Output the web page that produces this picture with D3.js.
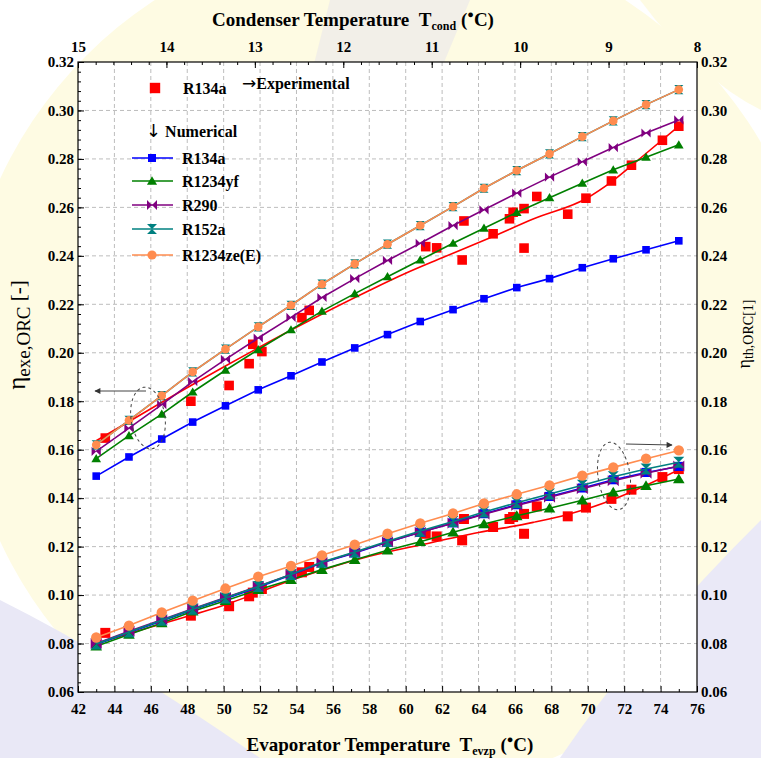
<!DOCTYPE html>
<html>
<head>
<meta charset="utf-8">
<script src="https://cdn.jsdelivr.net/npm/d3@7"></script>
<style>
  body { margin: 0; background: #fff; }
  svg { display: block; }
  text { font-family: "Liberation Serif", "Times New Roman", serif; }
</style>
</head>
<body>
<svg id="chart" width="761" height="758"></svg>
<script>
// ---- Axis tick values ----
const evapTicks = [42, 44, 46, 48, 50, 52, 54, 56, 58, 60, 62, 64, 66, 68, 70, 72, 74, 76];
const condTicks = [15, 14, 13, 12, 11, 10, 9, 8];
const effTicks  = [0.06, 0.08, 0.10, 0.12, 0.14, 0.16, 0.18, 0.20, 0.22, 0.24, 0.26, 0.28, 0.30, 0.32];

// ---- Numerical results: evaporator temperature (°C) ----
const tEvap = [43.0, 44.8, 46.6, 48.3, 50.1, 51.9, 53.7, 55.4, 57.2, 59.0, 60.8, 62.6, 64.3, 66.1, 67.9, 69.7, 71.4, 73.2, 75.0];

// Exergy efficiency (left axis)
const exeR134a   = [0.1491, 0.1570, 0.1644, 0.1714, 0.1781, 0.1847, 0.1905, 0.1962, 0.2020, 0.2075, 0.2129, 0.2178, 0.2223, 0.2269, 0.2306, 0.2351, 0.2388, 0.2425, 0.2462];
const exeR1234yf = [0.1563, 0.1658, 0.1747, 0.1838, 0.1928, 0.2013, 0.2095, 0.2172, 0.2244, 0.2314, 0.2383, 0.2452, 0.2514, 0.2579, 0.2640, 0.2700, 0.2755, 0.2807, 0.2858];
const exeR290    = [0.1593, 0.1689, 0.1786, 0.1881, 0.1973, 0.2061, 0.2146, 0.2228, 0.2306, 0.2381, 0.2452, 0.2525, 0.2590, 0.2659, 0.2725, 0.2788, 0.2847, 0.2907, 0.2961];
const exeR152a   = [0.1620, 0.1721, 0.1823, 0.1921, 0.2015, 0.2107, 0.2196, 0.2283, 0.2367, 0.2448, 0.2525, 0.2603, 0.2679, 0.2752, 0.2821, 0.2892, 0.2957, 0.3024, 0.3086];
const exeR1234ze = [0.1620, 0.1721, 0.1823, 0.1921, 0.2015, 0.2107, 0.2196, 0.2283, 0.2367, 0.2448, 0.2525, 0.2603, 0.2679, 0.2752, 0.2821, 0.2892, 0.2957, 0.3024, 0.3086];

// Thermal efficiency (right axis)
const thR134a    = [0.0796, 0.0846, 0.0893, 0.0939, 0.0985, 0.1032, 0.1083, 0.1133, 0.1174, 0.1218, 0.1259, 0.1298, 0.1336, 0.1373, 0.1407, 0.1442, 0.1476, 0.1506, 0.1531];
const thR1234yf  = [0.0789, 0.0837, 0.0885, 0.0933, 0.0977, 0.1022, 0.1063, 0.1105, 0.1146, 0.1185, 0.1220, 0.1259, 0.1293, 0.1327, 0.1358, 0.1391, 0.1424, 0.1451, 0.1479];
const thR290     = [0.0800, 0.0851, 0.0898, 0.0944, 0.0990, 0.1036, 0.1085, 0.1134, 0.1176, 0.1219, 0.1259, 0.1297, 0.1334, 0.1370, 0.1404, 0.1439, 0.1472, 0.1503, 0.1533];
const thR152a    = [0.0798, 0.0848, 0.0896, 0.0942, 0.0988, 0.1035, 0.1085, 0.1136, 0.1178, 0.1222, 0.1264, 0.1304, 0.1343, 0.1381, 0.1417, 0.1453, 0.1488, 0.1520, 0.1548];
const thR1234ze  = [0.0825, 0.0874, 0.0928, 0.0977, 0.1027, 0.1076, 0.1120, 0.1164, 0.1208, 0.1253, 0.1296, 0.1337, 0.1378, 0.1416, 0.1453, 0.1493, 0.1527, 0.1563, 0.1597];

// ---- Experimental R134a ----
const expT   = [43.5, 48.2, 50.3, 51.4, 51.6, 52.1, 54.3, 54.7, 61.1, 61.7, 63.1, 63.2, 64.8, 65.7, 65.9, 66.5, 66.5, 67.2, 68.9, 69.9, 71.3, 72.4, 74.1, 75.0];
const expExe = [0.1648, 0.1800, 0.1865, 0.1955, 0.2035, 0.2005, 0.2145, 0.2175, 0.2438, 0.2433, 0.2383, 0.2544, 0.2491, 0.2553, 0.2580, 0.2432, 0.2595, 0.2645, 0.2572, 0.2638, 0.2709, 0.2774, 0.2877, 0.2935];
const expTh  = [0.0844, 0.0915, 0.0954, 0.0995, 0.1010, 0.1025, 0.1094, 0.1116, 0.1253, 0.1242, 0.1226, 0.1314, 0.1281, 0.1314, 0.1322, 0.1253, 0.1335, 0.1366, 0.1325, 0.1361, 0.1397, 0.1435, 0.1487, 0.1520];

// Trend curves through the experimental points
const fitExeT = [43, 46, 50, 54, 58, 60, 62, 64.8, 67, 70, 71.3, 73, 75];
const fitExe  = [0.1637, 0.1769, 0.1941, 0.2105, 0.2257, 0.2328, 0.2392, 0.2480, 0.2552, 0.2640, 0.2705, 0.2810, 0.2935];
const fitThT  = [43, 46, 50, 54, 58, 61, 64, 67, 69, 71, 73, 75];
const fitTh   = [0.0800, 0.0868, 0.0958, 0.1068, 0.1160, 0.1210, 0.1258, 0.1300, 0.1335, 0.1383, 0.1446, 0.1517];

const seriesNames  = ["R134a", "R1234yf", "R290", "R152a", "R1234ze(E)"];
const seriesColors = ["#0000ff", "#008000", "#800080", "#008080", "#ff8c4f"];
const seriesShapes = ["square", "triangle", "bowtie", "hourglass", "circle"];
const exeSeries = [exeR134a, exeR1234yf, exeR290, exeR152a, exeR1234ze];
const thSeries  = [thR134a, thR1234yf, thR290, thR152a, thR1234ze];

// ---- Layout ----
const svg = d3.select("#chart");
const X0 = 78, X1 = 697, Y0 = 62, Y1 = 692;
const x = d3.scaleLinear().domain([42, 76]).range([X0, X1]);
const xTop = d3.scaleLinear().domain([15, 8]).range([X0, X1]);
const y = d3.scaleLinear().domain([0.06, 0.32]).range([Y1, Y0]);

// Soft backdrop behind the plot frame
const bg = svg.append("g");
bg.append("rect").attr("width", 761).attr("height", 758).attr("fill", "#ffffff");
bg.append("circle").attr("cx", 390).attr("cy", 360).attr("r", 430).attr("fill", "#fefbe3");
bg.append("path").attr("d", "M330,0 L470,0 L420,120 L300,120 Z").attr("fill", "#efece8").attr("opacity", 0.8);
bg.append("path").attr("d", "M0,600 Q120,660 260,758 L0,758 Z").attr("fill", "#e9e8f6");
bg.append("path").attr("d", "M761,520 Q640,640 560,758 L761,758 Z").attr("fill", "#eae9f7");
bg.append("path").attr("d", "M640,0 Q700,80 761,110 L761,0 Z").attr("fill", "#fefbe3");

// Plot area
svg.append("rect").attr("x", X0).attr("y", Y0).attr("width", X1 - X0).attr("height", Y1 - Y0).attr("fill", "#fff");

// Grid
const grid = svg.append("g").attr("stroke", "#bdbdbd").attr("stroke-width", 1).attr("stroke-dasharray", "4,3");
evapTicks.slice(1, -1).forEach(v => grid.append("line").attr("x1", x(v)).attr("x2", x(v)).attr("y1", Y0).attr("y2", Y1));
effTicks.slice(1, -1).forEach(v => grid.append("line").attr("x1", X0).attr("x2", X1).attr("y1", y(v)).attr("y2", y(v)));

// Axes
const tickFont = g => g.selectAll("text").attr("font-family", "Liberation Serif, serif").attr("font-weight", "bold").attr("font-size", 15).attr("fill", "#000");
const clean = g => { g.select(".domain").remove(); g.selectAll("line").attr("stroke", "#000"); };

svg.append("g").attr("transform", `translate(0,${Y1})`)
  .call(d3.axisBottom(x).tickValues(d3.range(43, 76, 2)).tickSize(-3).tickFormat("")).call(clean);
svg.append("g").attr("transform", `translate(0,${Y1})`)
  .call(d3.axisBottom(x).tickValues(evapTicks).tickSize(-6).tickPadding(11).tickFormat(d3.format("d"))).call(clean).call(tickFont);

svg.append("g").attr("transform", `translate(0,${Y0})`)
  .call(d3.axisTop(xTop).tickValues(d3.range(8.2, 15, 0.2)).tickSize(-3).tickFormat("")).call(clean);
svg.append("g").attr("transform", `translate(0,${Y0})`)
  .call(d3.axisTop(xTop).tickValues(condTicks).tickSize(-6).tickPadding(10).tickFormat(d3.format("d"))).call(clean).call(tickFont);

svg.append("g").attr("transform", `translate(${X0},0)`)
  .call(d3.axisLeft(y).tickValues(d3.range(0.064, 0.32, 0.004)).tickSize(-3).tickFormat("")).call(clean);
svg.append("g").attr("transform", `translate(${X0},0)`)
  .call(d3.axisLeft(y).tickValues(effTicks).tickSize(-6).tickPadding(4).tickFormat(d3.format(".2f"))).call(clean).call(tickFont);

svg.append("g").attr("transform", `translate(${X1},0)`)
  .call(d3.axisRight(y).tickValues(effTicks).tickSize(0).tickPadding(4).tickFormat(d3.format(".2f"))).call(clean).call(tickFont);

// Frame
svg.append("rect").attr("x", X0).attr("y", Y0).attr("width", X1 - X0).attr("height", Y1 - Y0)
  .attr("fill", "none").attr("stroke", "#000").attr("stroke-width", 1.2);

// Marker shapes
function shapePath(shape, s) {
  switch (shape) {
    case "square":    return `M${-s},${-s}h${2 * s}v${2 * s}h${-2 * s}Z`;
    case "triangle":  return `M0,${-s * 1.1}L${s * 1.15},${s * 0.85}L${-s * 1.15},${s * 0.85}Z`;
    case "bowtie":    return `M${-s},${-s}L0,0L${-s},${s}ZM${s},${-s}L0,0L${s},${s}Z`;
    case "hourglass": return `M${-s},${-s}L${s},${-s}L0,0ZM${-s},${s}L${s},${s}L0,0Z`;
    default:          return `M${s},0A${s},${s},0,1,1,${-s},0A${s},${s},0,1,1,${s},0Z`;
  }
}

const line = d3.line().x(d => x(d[0])).y(d => y(d[1]));
const smooth = d3.line().x(d => x(d[0])).y(d => y(d[1])).curve(d3.curveMonotoneX);
const plot = svg.append("g");

// Experimental trend curves and points
plot.append("path").datum(d3.zip(fitExeT, fitExe)).attr("d", smooth).attr("fill", "none").attr("stroke", "#ff0000").attr("stroke-width", 1.6);
plot.append("path").datum(d3.zip(fitThT, fitTh)).attr("d", smooth).attr("fill", "none").attr("stroke", "#ff0000").attr("stroke-width", 1.6);
[expExe, expTh].forEach((vals, k) => {
  plot.selectAll(null).data(d3.zip(expT, vals)).join("path")
    .attr("transform", d => `translate(${x(d[0])},${y(d[1])})`)
    .attr("d", shapePath("square", k === 0 ? 4.8 : 5.0))
    .attr("fill", "#ff0000");
});

// Numerical series
[exeSeries, thSeries].forEach((group, k) => {
  const scale = k === 0 ? 1 : 1.2;
  group.forEach((vals, i) => {
    const pts = d3.zip(tEvap, vals);
    const g = plot.append("g");
    g.append("path").datum(pts).attr("d", line).attr("fill", "none")
      .attr("stroke", seriesColors[i]).attr("stroke-width", 1.6);
    const sz = [3.8, 4.2, 4.6, 4.6, 4.3][i] * scale;
    g.selectAll(null).data(pts).join("path")
      .attr("transform", d => `translate(${x(d[0])},${y(d[1])})`)
      .attr("d", shapePath(seriesShapes[i], sz))
      .attr("fill", seriesColors[i]);
  });
});

// Dashed ellipses with arrows pointing to the matching axis
const defs = svg.append("defs");
defs.append("marker").attr("id", "arrowHead").attr("viewBox", "0 0 10 10").attr("refX", 9).attr("refY", 5)
  .attr("markerWidth", 7).attr("markerHeight", 6).attr("orient", "auto")
  .append("path").attr("d", "M0,0L10,5L0,10Z").attr("fill", "#333");
const ann = svg.append("g").attr("fill", "none").attr("stroke", "#444").attr("stroke-width", 1);
ann.append("ellipse").attr("cx", 148).attr("cy", 418).attr("rx", 17).attr("ry", 31)
  .attr("transform", "rotate(-8,148,418)").attr("stroke-dasharray", "3,3");
ann.append("line").attr("x1", 146).attr("y1", 391).attr("x2", 95).attr("y2", 391).attr("marker-end", "url(#arrowHead)");
ann.append("ellipse").attr("cx", 614).attr("cy", 476).attr("rx", 16).attr("ry", 34)
  .attr("transform", "rotate(-8,614,476)").attr("stroke-dasharray", "3,3");
ann.append("line").attr("x1", 626).attr("y1", 444).attr("x2", 672).attr("y2", 445).attr("marker-end", "url(#arrowHead)");

// Legend
const leg = svg.append("g").attr("font-family", "Liberation Serif, serif").attr("font-weight", "bold").attr("font-size", 16);
leg.append("path").attr("transform", "translate(155,88)").attr("d", shapePath("square", 5.2)).attr("fill", "#ff0000");
leg.append("text").attr("x", 183).attr("y", 94).text("R134a");
leg.append("text").attr("x", 242).attr("y", 89).html('<tspan font-family="DejaVu Sans" font-weight="normal" font-size="17">\u2192</tspan>Experimental');
leg.append("text").attr("x", 146).attr("y", 137).html('<tspan font-family="DejaVu Sans" font-weight="normal" font-size="18">\u2193</tspan> Numerical');
const legY = [158, 181, 205, 229, 255];
seriesNames.forEach((name, i) => {
  leg.append("line").attr("x1", 132).attr("x2", 173).attr("y1", legY[i]).attr("y2", legY[i])
    .attr("stroke", seriesColors[i]).attr("stroke-width", 1.6);
  leg.append("path").attr("transform", `translate(152,${legY[i]})`)
    .attr("d", shapePath(seriesShapes[i], [4, 4.4, 5, 5, 4.6][i])).attr("fill", seriesColors[i]);
  leg.append("text").attr("x", 182).attr("y", legY[i] + 6).text(name);
});

// Axis titles
svg.append("text").attr("x", 353).attr("y", 26).attr("text-anchor", "middle")
  .attr("font-weight", "bold").attr("font-size", 19)
  .html('Condenser Temperature&#160;&#160;T<tspan font-size="12" dy="4">cond</tspan><tspan dy="-4"> (</tspan><tspan font-size="11" dy="-8">\u25CF</tspan><tspan dy="8">C)</tspan>');
svg.append("text").attr("x", 390).attr("y", 751).attr("text-anchor", "middle")
  .attr("font-weight", "bold").attr("font-size", 19)
  .html('Evaporator Temperature&#160;&#160;T<tspan font-size="12" dy="4">evzp</tspan><tspan dy="-4"> (</tspan><tspan font-size="11" dy="-8">\u25CF</tspan><tspan dy="8">C)</tspan>');

svg.append("text").attr("transform", "translate(25,335) rotate(-90)").attr("text-anchor", "middle")
  .attr("font-family", "Liberation Sans, Arial, sans-serif").attr("font-size", 25).attr("fill", "#000")
  .html('\u03B7<tspan font-size="19" dy="5">exe,ORC</tspan><tspan font-size="21" dy="-5"> [-]</tspan>');
svg.append("text").attr("transform", "translate(750,334) rotate(-90)").attr("text-anchor", "middle")
  .attr("font-family", "Liberation Sans, Arial, sans-serif").attr("font-size", 18).attr("fill", "#000")
  .html('\u03B7<tspan font-size="14" dy="3">th,ORC[1]</tspan>');
</script>
</body>
</html>
